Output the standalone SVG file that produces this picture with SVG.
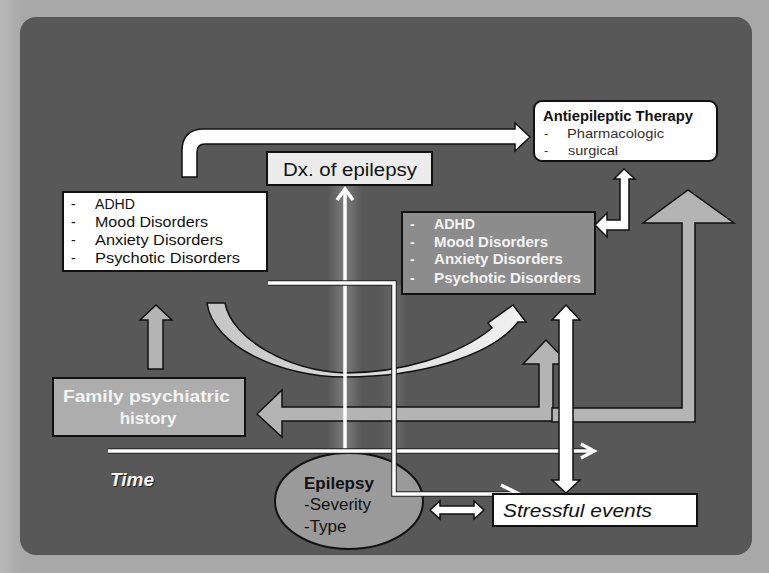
<svg xmlns="http://www.w3.org/2000/svg" width="769" height="573" viewBox="0 0 769 573">
<defs>
<linearGradient id="glow" x1="0" y1="0" x2="1" y2="0">
<stop offset="0" stop-color="#fff" stop-opacity="0"/>
<stop offset="0.5" stop-color="#fff" stop-opacity="0.22"/>
<stop offset="1" stop-color="#fff" stop-opacity="0"/>
</linearGradient>
<linearGradient id="curveFill" x1="0" y1="0" x2="1" y2="0">
<stop offset="0" stop-color="#c4c4c4"/>
<stop offset="1" stop-color="#f2f2f2"/>
</linearGradient>
<linearGradient id="edge" x1="0" y1="0" x2="1" y2="0">
<stop offset="0" stop-color="#b8b8b8"/>
<stop offset="0.03" stop-color="#a8a8a8"/>
<stop offset="1" stop-color="#a8a8a8"/>
</linearGradient>
</defs>
<style>
text{font-family:"Liberation Sans",Arial,sans-serif}
.box{stroke:#111;stroke-width:2}
.wline{fill:none;stroke:#fff;stroke-width:3.5}
.wedge{fill:none;stroke:#222;stroke-width:5.5}
.warrow{fill:#fff;stroke:#111;stroke-width:1.5}
.garrow{fill:#b4b4b4;stroke:#111;stroke-width:1.5}
.blk{fill:#111}
.wht{fill:#f4f4f4}
</style>
<rect x="0" y="0" width="769" height="573" fill="url(#edge)"/>
<rect x="20" y="17" width="732" height="538" rx="16" fill="#585858"/>

<rect x="328" y="185" width="34" height="267" fill="url(#glow)"/>
<rect x="380" y="285" width="28" height="167" fill="url(#glow)" opacity="0.5"/>

<g id="epilepsy">
<ellipse class="box" cx="349" cy="501" rx="74" ry="48" fill="#9a9a9a"/>
<text x="304" y="489" font-size="17" font-weight="bold" class="blk">Epilepsy</text>
<text x="304" y="510" font-size="17" class="blk">-Severity</text>
<text x="304" y="532" font-size="17" class="blk">-Type</text>
</g>

<g id="connectors">
<path class="garrow" d="M257,414 L282,390 L282,407 L539,407 L539,364 L523,364 L546,340 L569,364 L553,364 L553,421 L282,421 L282,437 Z"/>
<path class="garrow" d="M552,408 L682,408 L682,223 L643,223 L688,190 L734,223 L695,223 L695,422 L552,422 Z"/>
<path class="garrow" d="M156,305 L172,320 L163,320 L163,369 L148,369 L148,320 L140,320 Z"/>
<path d="M207,303 L225,303 C232,340 290,371 345,373 C400,373 458,356 492,328 L488,323 L513,305 L526,322 L518,322 C492,356 420,377 345,377 C280,377 213,346 207,303 Z" fill="url(#curveFill)" stroke="#111" stroke-width="1.5"/>
<path class="warrow" d="M182,177 L182,151 Q182,129 204,129 L515,129 L515,123 L530,137 L515,151 L515,144 L205,144 Q197,144 197,152 L197,177 Z"/>
<line x1="345" y1="451" x2="345" y2="190" stroke="#fff" stroke-width="3.5"/>
<polyline points="337,200 345,189 353,200" fill="none" stroke="#fff" stroke-width="3.5"/>
<line x1="108" y1="451" x2="594" y2="451" stroke="#222" stroke-width="5.5"/>
<line x1="108" y1="451" x2="594" y2="451" stroke="#fff" stroke-width="3.5"/>
<polyline points="581,444 594,451 581,458" fill="none" stroke="#fff" stroke-width="3.5"/>
<polyline class="wedge" points="268,283 394,283 394,494 518,494"/>
<polyline class="wline" points="268,283 394,283 394,494 518,494"/>
<polyline points="501,485 519,494 501,503" fill="none" stroke="#fff" stroke-width="3.5"/>
<path class="warrow" d="M566,305 L580,320 L573,320 L573,480 L580,480 L566,493 L552,480 L559,480 L559,320 L552,320 Z"/>
<path class="warrow" d="M624,169 L635,179 L629,179 L629,230 L607,230 L607,237 L595,225 L607,213 L607,220 L620,220 L620,179 L614,179 Z"/>
<path class="warrow" d="M430,510 L440,501 L440,506 L474,506 L474,501 L484,510 L474,519 L474,514 L440,514 L440,519 Z"/>
</g>

<g id="antiepileptic-therapy">
<rect class="box" x="534" y="101" width="183" height="60" rx="8" fill="#fff"/>
<text x="543" y="121" font-size="14" font-weight="bold" class="blk" textLength="150" lengthAdjust="spacingAndGlyphs">Antiepileptic Therapy</text>
<text x="544" y="138" font-size="13" fill="#333">-</text>
<text x="567" y="138" font-size="13" fill="#333" textLength="97" lengthAdjust="spacingAndGlyphs">Pharmacologic</text>
<text x="544" y="155" font-size="13" fill="#333">-</text>
<text x="568" y="155" font-size="13" fill="#333" textLength="50" lengthAdjust="spacingAndGlyphs">surgical</text>
</g>

<g id="dx-epilepsy">
<rect class="box" x="267" y="152" width="165" height="33" fill="#ececec"/>
<text x="283" y="176" font-size="18" class="blk" textLength="134" lengthAdjust="spacingAndGlyphs">Dx. of epilepsy</text>
</g>

<g id="disorders-before">
<rect class="box" x="63" y="192" width="204" height="79" fill="#fff"/>
<g font-size="14" class="blk">
<text x="71" y="209">-</text><text x="95" y="209" textLength="40" lengthAdjust="spacingAndGlyphs">ADHD</text>
<text x="71" y="227">-</text><text x="95" y="227" textLength="113" lengthAdjust="spacingAndGlyphs">Mood Disorders</text>
<text x="71" y="245">-</text><text x="95" y="245" textLength="128" lengthAdjust="spacingAndGlyphs">Anxiety  Disorders</text>
<text x="71" y="263">-</text><text x="95" y="263" textLength="145" lengthAdjust="spacingAndGlyphs">Psychotic Disorders</text>
</g>
</g>

<g id="disorders-after">
<rect class="box" x="402" y="212" width="193" height="82" fill="#8c8c8c"/>
<g font-size="14" font-weight="bold" class="wht">
<text x="410" y="229">-</text><text x="434" y="229" textLength="41" lengthAdjust="spacingAndGlyphs">ADHD</text>
<text x="410" y="247">-</text><text x="434" y="247" textLength="114" lengthAdjust="spacingAndGlyphs">Mood Disorders</text>
<text x="410" y="264">-</text><text x="434" y="264" textLength="129" lengthAdjust="spacingAndGlyphs">Anxiety  Disorders</text>
<text x="410" y="283">-</text><text x="434" y="283" textLength="147" lengthAdjust="spacingAndGlyphs">Psychotic Disorders</text>
</g>
</g>

<g id="family-history">
<rect class="box" x="53" y="378" width="192" height="58" fill="#adadad"/>
<text x="63" y="402" font-size="17" font-weight="bold" class="wht" textLength="167" lengthAdjust="spacingAndGlyphs">Family psychiatric</text>
<text x="148" y="424" font-size="17" font-weight="bold" text-anchor="middle" class="wht">history</text>
</g>

<g id="time-label">
<text x="111" y="487" font-size="19" font-weight="bold" font-style="italic" fill="#222">Time</text>
<text x="110" y="486" font-size="19" font-weight="bold" font-style="italic" class="wht">Time</text>
</g>

<g id="stressful-events">
<rect class="box" x="493" y="494" width="204" height="32" fill="#fff"/>
<text x="503" y="517" font-size="19" font-style="italic" class="blk" textLength="149" lengthAdjust="spacingAndGlyphs">Stressful events</text>
</g>
</svg>
